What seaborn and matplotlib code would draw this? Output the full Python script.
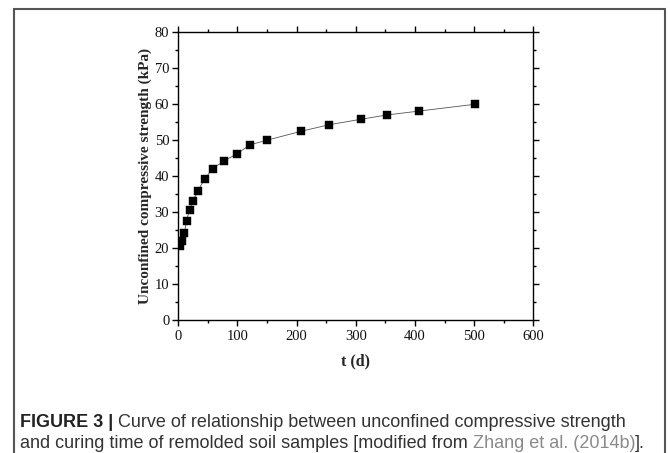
import matplotlib
matplotlib.use("Agg")
import matplotlib.pyplot as plt
import seaborn as sns
import pandas as pd
from matplotlib.lines import Line2D
from matplotlib.ticker import MultipleLocator

# Data
days = [3, 7, 10, 14, 19, 25, 33, 45, 58, 78, 99, 121, 150, 208, 255, 308, 352, 407, 502]
strength = [20.7, 22.1, 24.1, 27.5, 30.7, 33.1, 36.0, 39.3, 42.1, 44.3, 46.2, 48.7, 50.0,
            52.5, 54.3, 55.8, 57.0, 58.1, 60.0]
x_label = "t (d)"
y_label = "Unconfined compressive strength (kPa)"
cap_bold = "FIGURE 3 |"
cap_line1 = " Curve of relationship between unconfined compressive strength"
cap_line2a = "and curing time of remolded soil samples [modified from "
cap_link = "Zhang et al. (2014b)"
cap_line2b = "]."

df = pd.DataFrame({"t": days, "ucs": strength})

sns.set_theme(style="ticks")
plt.rcParams["font.family"] = ["Liberation Serif", "DejaVu Serif"]

fig = plt.figure(figsize=(6.7, 4.53), dpi=100)
ax = fig.add_axes([178.3 / 670, 1 - 320 / 453, (533.3 - 178.3) / 670, (320 - 32.3) / 453])

sns.lineplot(data=df, x="t", y="ucs", ax=ax, color="#555555", linewidth=0.6,
             marker="s", markersize=5.2, markerfacecolor="black",
             markeredgecolor="black", markeredgewidth=0.3)

ax.set_xlim(0, 600)
ax.set_ylim(0, 80)
ax.xaxis.set_major_locator(MultipleLocator(100))
ax.xaxis.set_minor_locator(MultipleLocator(50))
ax.yaxis.set_major_locator(MultipleLocator(10))
ax.yaxis.set_minor_locator(MultipleLocator(5))

for s in ax.spines.values():
    s.set_visible(True)
    s.set_color("black")
    s.set_linewidth(1.0)

ax.tick_params(axis="both", which="major", direction="out", length=4, width=1.0,
               color="black", labelsize=10.5, labelcolor="#111111",
               top=True, right=True, labeltop=False, labelright=False, pad=3)
ax.tick_params(axis="y", which="major", pad=2.5)
ax.tick_params(axis="both", which="minor", direction="out", length=2.5, width=1.0,
               color="black", top=True, right=True)

ax.set_xlabel(x_label, fontsize=11.5, fontweight="bold", labelpad=8)
ax.set_ylabel(y_label, fontsize=11, fontweight="bold", labelpad=2)
ax.grid(False)

# Frame around the figure
fc = "#555555"
fig.add_artist(Line2D([14 / 670, 14 / 670], [0, 1 - 9 / 453], transform=fig.transFigure, color=fc, lw=1.5))
fig.add_artist(Line2D([14 / 670, 665 / 670], [1 - 9 / 453, 1 - 9 / 453], transform=fig.transFigure, color=fc, lw=1.5))
fig.add_artist(Line2D([665 / 670, 665 / 670], [0, 1 - 9 / 453], transform=fig.transFigure, color=fc, lw=1.5))

# Caption
cap_font = ["Liberation Sans", "DejaVu Sans"]
cs = 13.0
renderer = fig.canvas.get_renderer()
x0 = 20 / 670
y1 = 1 - 427 / 453
y2 = 1 - 448 / 453

t = fig.text(x0, y1, cap_bold, fontsize=cs, fontweight="bold", family=cap_font, color="#222222", va="baseline")
bb = t.get_window_extent(renderer)
fig.text(bb.x1 / fig.bbox.width, y1, cap_line1, fontsize=cs, family=cap_font, color="#333333", va="baseline")

t2 = fig.text(x0, y2, cap_line2a, fontsize=cs, family=cap_font, color="#333333", va="baseline")
bb2 = t2.get_window_extent(renderer)
t3 = fig.text(bb2.x1 / fig.bbox.width, y2, cap_link, fontsize=cs, family=cap_font, color="#8a8a8a", va="baseline")
bb3 = t3.get_window_extent(renderer)
fig.text(bb3.x1 / fig.bbox.width, y2, cap_line2b, fontsize=cs, family=cap_font, color="#333333", va="baseline")

fig.savefig("out.png", dpi=100, facecolor="white")
